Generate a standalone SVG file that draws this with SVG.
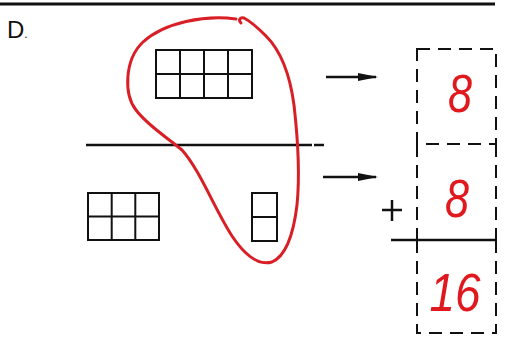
<svg xmlns="http://www.w3.org/2000/svg" width="509" height="349" viewBox="0 0 509 349">
<style>
.ln{stroke:#111;fill:none;stroke-width:2.5}
.grid{stroke:#111;fill:none;stroke-width:2}
.dash{stroke:#111;fill:none;stroke-width:2;stroke-dasharray:13 8}
.num{font-family:"Liberation Sans",Arial,sans-serif;font-style:italic;fill:#e0191e;font-size:54px;text-anchor:middle}
.lbl{font-family:"Liberation Sans",Arial,sans-serif;fill:#111;font-size:24px}
.loop{stroke:#d81f26;fill:none;stroke-width:3;stroke-linecap:round;stroke-linejoin:round}
</style>
<defs>
<marker id="ah" viewBox="0 0 20 10" refX="18" refY="5" markerWidth="8" markerHeight="4" orient="auto" markerUnits="strokeWidth">
<path d="M0,1 L20,5 L0,9 z" fill="#111"/>
</marker>
</defs>
<rect width="509" height="349" fill="#fff"/>
<line x1="0" y1="4" x2="495" y2="4" stroke="#111" stroke-width="3"/>
<text class="lbl" x="7" y="38">D<tspan font-size="12">.</tspan></text>

<g id="top-blocks">
<rect class="grid" x="156" y="50" width="96" height="48"/>
<line class="grid" x1="180" y1="50" x2="180" y2="98"/>
<line class="grid" x1="204" y1="50" x2="204" y2="98"/>
<line class="grid" x1="228" y1="50" x2="228" y2="98"/>
<line class="grid" x1="156" y1="74" x2="252" y2="74"/>
</g>

<g id="divider">
<line class="ln" x1="86" y1="145" x2="312" y2="145" stroke-width="3"/>
<line class="ln" x1="314" y1="145" x2="324" y2="145" stroke-width="3"/>
</g>

<g id="bottom-left-blocks">
<rect class="grid" x="88" y="193" width="71" height="47"/>
<line class="grid" x1="111.7" y1="193" x2="111.7" y2="240"/>
<line class="grid" x1="135.3" y1="193" x2="135.3" y2="240"/>
<line class="grid" x1="88" y1="216.5" x2="159" y2="216.5"/>
</g>

<g id="bottom-right-blocks">
<rect class="grid" x="252" y="193" width="25" height="48"/>
<line class="grid" x1="252" y1="217" x2="277" y2="217"/>
</g>

<g id="loop">
<path class="loop" d="M236,19 C205,15 165,22 143,42 C124,60 124,95 136,110 C148,126 168,138 182,150 C200,170 215,210 232,236 C244,254 258,266 272,262 C288,255 294,230 297,205 C300,175 298,140 294,105 C290,75 280,50 266,36 C258,28 252,22 244,18 C240,17 238,20 241,23"/>
</g>

<g id="connectors">
<line class="ln" x1="326" y1="77" x2="376" y2="77" marker-end="url(#ah)"/>
<line class="ln" x1="323" y1="177" x2="376" y2="177" marker-end="url(#ah)"/>
</g>

<g id="box-top">
<rect class="dash" x="417" y="49" width="79" height="95"/>
<text class="num" transform="translate(460,112) scale(0.8,1)">8</text>
</g>

<g id="box-middle">
<path class="dash" d="M417,144 L417,240 M496,144 L496,240"/>
<text class="num" transform="translate(457,217) scale(0.8,1)">8</text>
<line class="ln" x1="382" y1="210" x2="402" y2="210" stroke-width="3"/>
<line class="ln" x1="392" y1="200" x2="392" y2="221" stroke-width="3"/>
</g>

<g id="sum-line">
<line class="ln" x1="391" y1="240" x2="496" y2="240"/>
</g>

<g id="box-bottom">
<path class="dash" d="M417,240 L417,333 L496,333 L496,240"/>
<text class="num" font-size="46" transform="translate(455,311) scale(0.85,1)">16</text>
</g>
</svg>
